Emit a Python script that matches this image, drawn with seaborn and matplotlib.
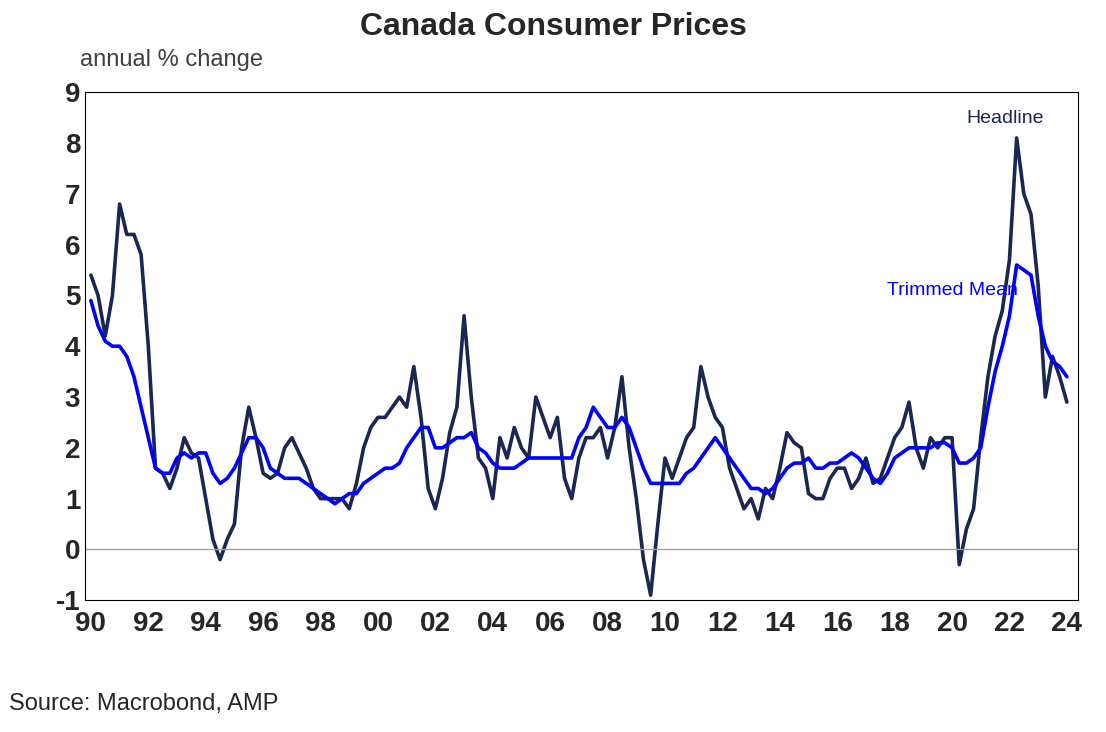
import numpy as np
import pandas as pd
import matplotlib
matplotlib.use("Agg")
import matplotlib.pyplot as plt
import seaborn as sns

# quarterly readings, 1990Q1 .. 2024Q1
headline = [5.4, 5.0, 4.2, 5.0, 6.8, 6.2, 6.2, 5.8, 4.0, 1.6, 1.5, 1.2,
            1.6, 2.2, 1.9, 1.8, 1.0, 0.2, -0.2, 0.2, 0.5, 2.0, 2.8, 2.2,
            1.5, 1.4, 1.5, 2.0, 2.2, 1.9, 1.6, 1.2, 1.0, 1.0, 1.0, 1.0,
            0.8, 1.3, 2.0, 2.4, 2.6, 2.6, 2.8, 3.0, 2.8, 3.6, 2.6, 1.2,
            0.8, 1.4, 2.3, 2.8, 4.6, 3.0, 1.8, 1.6, 1.0, 2.2, 1.8, 2.4,
            2.0, 1.8, 3.0, 2.6, 2.2, 2.6, 1.4, 1.0, 1.8, 2.2, 2.2, 2.4,
            1.8, 2.4, 3.4, 2.0, 1.0, -0.2, -0.9, 0.5, 1.8, 1.4, 1.8, 2.2,
            2.4, 3.6, 3.0, 2.6, 2.4, 1.6, 1.2, 0.8, 1.0, 0.6, 1.2, 1.0,
            1.6, 2.3, 2.1, 2.0, 1.1, 1.0, 1.0, 1.4, 1.6, 1.6, 1.2, 1.4,
            1.8, 1.3, 1.4, 1.8, 2.2, 2.4, 2.9, 2.0, 1.6, 2.2, 2.0, 2.2,
            2.2, -0.3, 0.4, 0.8, 2.2, 3.4, 4.2, 4.7, 5.7, 8.1, 7.0, 6.6,
            5.2, 3.0, 3.8, 3.4, 2.9]
trimmed = [4.9, 4.4, 4.1, 4.0, 4.0, 3.8, 3.4, 2.8, 2.2, 1.6, 1.5, 1.5,
           1.8, 1.9, 1.8, 1.9, 1.9, 1.5, 1.3, 1.4, 1.6, 1.9, 2.2, 2.2,
           2.0, 1.6, 1.5, 1.4, 1.4, 1.4, 1.3, 1.2, 1.1, 1.0, 0.9, 1.0,
           1.1, 1.1, 1.3, 1.4, 1.5, 1.6, 1.6, 1.7, 2.0, 2.2, 2.4, 2.4,
           2.0, 2.0, 2.1, 2.2, 2.2, 2.3, 2.0, 1.9, 1.7, 1.6, 1.6, 1.6,
           1.7, 1.8, 1.8, 1.8, 1.8, 1.8, 1.8, 1.8, 2.2, 2.4, 2.8, 2.6,
           2.4, 2.4, 2.6, 2.4, 2.0, 1.6, 1.3, 1.3, 1.3, 1.3, 1.3, 1.5,
           1.6, 1.8, 2.0, 2.2, 2.0, 1.8, 1.6, 1.4, 1.2, 1.2, 1.1, 1.2,
           1.4, 1.6, 1.7, 1.7, 1.8, 1.6, 1.6, 1.7, 1.7, 1.8, 1.9, 1.8,
           1.6, 1.4, 1.3, 1.5, 1.8, 1.9, 2.0, 2.0, 2.0, 2.0, 2.1, 2.1,
           2.0, 1.7, 1.7, 1.8, 2.0, 2.8, 3.5, 4.0, 4.6, 5.6, 5.5, 5.4,
           4.6, 4.0, 3.7, 3.6, 3.4]
tick_years = list(range(1990, 2025, 2))
tick_labels = [f"{y % 100:02d}" for y in tick_years]
y_ticks = list(range(-1, 10))

dates = 1990 + np.arange(len(headline)) * 0.25
df = pd.DataFrame({"date": dates, "Headline": headline, "Trimmed Mean": trimmed})

sns.set_style("white")
plt.rcParams["font.family"] = ["Liberation Sans", "DejaVu Sans"]
plt.rcParams["axes.unicode_minus"] = False

fig = plt.figure(figsize=(11.06, 7.32), dpi=100)
ax = fig.add_axes([0.077, 0.18, 0.898, 0.694])

sns.lineplot(data=df, x="date", y="Headline", color="#1b2652", linewidth=2.6, ax=ax)
sns.lineplot(data=df, x="date", y="Trimmed Mean", color="#0000ff", linewidth=2.6, ax=ax)
ax.axhline(0, color="#a0a0a0", linewidth=1)

ax.set_xlim(1989.8, 2024.4)
ax.set_ylim(-1, 9)
ax.set_yticks(y_ticks)
ax.set_yticklabels([str(v) for v in y_ticks])
ax.set_xticks(tick_years)
ax.set_xticklabels(tick_labels)
ax.tick_params(axis="both", labelsize=20, length=0)
ax.tick_params(axis="x", pad=8)
for lab in ax.get_xticklabels() + ax.get_yticklabels():
    lab.set_fontweight("bold")
ax.set_xlabel("")
ax.set_ylabel("")
for s in ax.spines.values():
    s.set_color("black")
    s.set_linewidth(0.8)

ax.text(2023.2, 8.4, "Headline", color="#1b2652", fontsize=14, ha="right")
ax.text(2022.3, 5.0, "Trimmed Mean", color="#0000ff", fontsize=14, ha="right")

fig.text(0.5, 0.952, "Canada Consumer Prices", ha="center", fontsize=23, fontweight="bold")
fig.text(0.072, 0.91, "annual % change", fontsize=17, color="#404040")
fig.text(0.008, 0.03, "Source: Macrobond, AMP", fontsize=17)

fig.savefig("out.png", dpi=100)
